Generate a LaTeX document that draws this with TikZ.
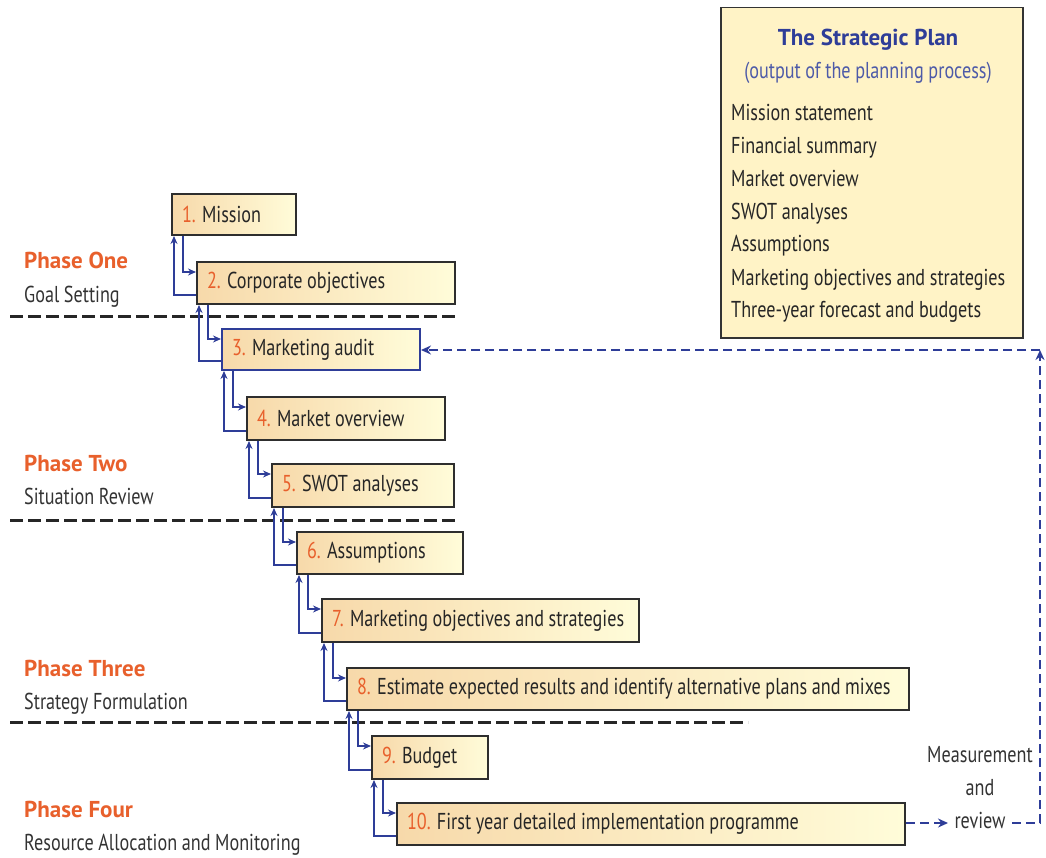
\documentclass[tikz,border=0pt]{standalone}
\usepackage{fontspec}
\setmainfont{PT Sans}[FakeStretch=0.79,WordSpace=0.95]
\newfontfamily\headfont{PT Sans}
\usetikzlibrary{arrows.meta,shadings}
\definecolor{conblue}{HTML}{2E3D98}
\definecolor{numorange}{HTML}{E8602C}
\definecolor{boxleft}{HTML}{F7D9AA}
\definecolor{boxright}{HTML}{FFFCD9}
\definecolor{plancol}{HTML}{FFF3C6}
\definecolor{subgray}{HTML}{333333}
\newcommand{\stp}[2]{\noindent\spaceskip=0pt\relax\xspaceskip=0pt\relax\mbox{\textcolor{numorange}{#1} #2}}
\tikzset{
  stepbox/.style={draw=black!82, line width=2pt, left color=boxleft, right color=boxright,
    anchor=north west, inner xsep=10pt, inner ysep=0pt,
    font=\fontsize{23}{25}\selectfont, text=black!85},
  conn/.style={draw=conblue, line width=2pt, -{Stealth[length=8pt,width=7pt]}},
  phasesep/.style={draw=black!85, line width=3pt, dash pattern=on 13pt off 5pt},
  fb/.style={draw=conblue, line width=2.4pt, dash pattern=on 9pt off 5pt},
  fbarrow/.style={fb, -{Stealth[length=10pt,width=9pt]}},
  phasehead/.style={anchor=base west, text=numorange, font=\headfont\fontsize{23}{25}\selectfont\bfseries, inner sep=0pt},
  phasesub/.style={anchor=base west, text=subgray, font=\fontsize{23}{25}\selectfont, inner sep=0pt},
  listitem/.style={anchor=base west, text=black!85, font=\fontsize{23}{25}\selectfont, inner sep=0pt}
}
\begin{document}
\begin{tikzpicture}[x=1pt,y=-1pt]
\useasboundingbox (0,0) rectangle (1046,858);
% Strategic plan box
\node[draw=black!80, line width=1.5pt, fill=plancol, minimum width=302pt, minimum height=330pt, anchor=north west, inner sep=0pt] (plan) at (720,7) {};
\node[anchor=base, text=conblue, font=\headfont\fontsize{23}{25}\selectfont\bfseries, inner sep=0pt] (ptitle) at (868,46) {The Strategic Plan};
\node[anchor=base, text=conblue!85, font=\fontsize{23}{25}\selectfont, inner sep=0pt] (psub) at (868,79) {(output of the planning process)};
\node[listitem] (l1) at (731,121) {Mission statement};
\node[listitem] (l2) at (731,154) {Financial summary};
\node[listitem] (l3) at (731,187) {Market overview};
\node[listitem] (l4) at (731,220) {SWOT analyses};
\node[listitem] (l5) at (731,252) {Assumptions};
\node[listitem] (l6) at (731,286) {Marketing objectives and strategies};
\node[listitem] (l7) at (731,318) {Three-year forecast and budgets};
% phase separators
\coordinate (s1a) at (10,317); \coordinate (s1b) at (455,317);
\coordinate (s2a) at (10,520); \coordinate (s2b) at (455,520);
\coordinate (s3a) at (10,722); \coordinate (s3b) at (748,722);
\draw[phasesep] (s1a) -- (s1b);
\draw[phasesep] (s2a) -- (s2b);
\draw[phasesep] (s3a) -- (s3b);
% phase labels
\node[phasehead] (p1) at (24,269) {Phase One};
\node[phasesub] (p1s) at (24,303) {Goal Setting};
\node[phasehead] (p2) at (24,471) {Phase Two};
\node[phasesub] (p2s) at (24,504) {Situation Review};
\node[phasehead] (p3) at (24,676) {Phase Three};
\node[phasesub] (p3s) at (24,709) {Strategy Formulation};
\node[phasehead] (p4) at (24,817) {Phase Four};
\node[phasesub] (p4s) at (24,850) {Resource Allocation and Monitoring};
% steps
\node[stepbox, minimum height=41pt, text width=104pt] (b1) at (171,193) {\stp{1.}{Mission}};
\node[stepbox, minimum height=42pt, text width=238pt] (b2) at (196,261) {\stp{2.}{Corporate objectives}};
\node[stepbox, draw=conblue, minimum height=41pt, text width=178pt] (b3) at (221,328) {\stp{3.}{Marketing audit}};
\node[stepbox, minimum height=43pt, text width=178pt] (b4) at (246,396) {\stp{4.}{Market overview}};
\node[stepbox, minimum height=43pt, text width=162pt] (b5) at (271,463) {\stp{5.}{SWOT analyses}};
\node[stepbox, minimum height=42pt, text width=146pt] (b6) at (296,531) {\stp{6.}{Assumptions}};
\node[stepbox, minimum height=43pt, text width=297pt] (b7) at (321,598) {\stp{7.}{Marketing objectives and strategies}};
\node[stepbox, minimum height=42pt, text width=542pt] (b8) at (346,667) {\stp{8.}{Estimate expected results and identify alternative plans and mixes}};
\node[stepbox, minimum height=43pt, text width=96pt] (b9) at (371,735) {\stp{9.}{Budget}};
\node[stepbox, minimum height=42pt, text width=488pt] (b10) at (396,802) {\stp{10.}{First year detailed implementation programme}};
% connectors
\foreach \a/\b in {b1/b2,b2/b3,b3/b4,b4/b5,b5/b6,b6/b7,b7/b8,b8/b9,b9/b10}{
  \draw[conn] ([xshift=12pt]\a.south west) |- ([yshift=-11pt]\b.north west);
  \draw[conn] ([yshift=10pt]\b.south west) -| ([xshift=3pt]\a.south west);
}
% feedback loop
\node[align=center, text=black!80, font=\fontsize{23}{33}\selectfont, inner sep=0pt] (mr) at (980,788) {Measurement\\and\\review};
\coordinate (rv) at (948,823);
\coordinate (rve) at (1012,823);
\coordinate (c1) at (1040,823);
\coordinate (c2) at (1040,350);
\draw[fbarrow] (b10.east |- rv) -- (rv);
\draw[fbarrow] (rve) -- (c1) -- (c2);
\draw[fbarrow] (c2) -- (b3.east |- c2);
\end{tikzpicture}
\end{document}
